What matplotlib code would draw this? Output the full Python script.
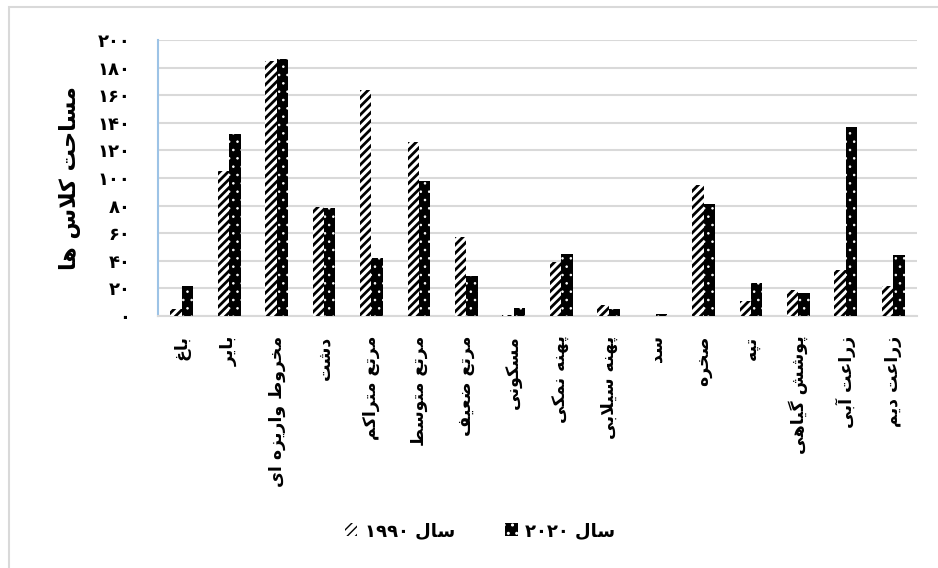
import numpy as np
import matplotlib
matplotlib.use("Agg")
import matplotlib.pyplot as plt
from matplotlib.patches import Rectangle, Patch

# data
categories = ['باغ', 'بایر', 'مخروط واریزه ای', 'دشت', 'مرتع متراکم', 'مرتع متوسط',
              'مرتع ضعیف', 'مسکونی', 'پهنه نمکی', 'پهنه سیلابی', 'سد', 'صخره',
              'تپه', 'پوشش گیاهی', 'زراعت آبی', 'زراعت دیم']
area_1990 = [5, 105, 185, 79, 164, 126, 57, 1, 39, 8, 0.3, 95, 11, 19, 33, 22]
area_2020 = [22, 132, 186, 78, 42, 98, 29, 6, 45, 5, 1.2, 81, 24, 17, 137, 44]
series_names = ['سال ۱۹۹۰', 'سال ۲۰۲۰']
y_label = 'مساحت کلاس ها'
y_ticks = list(range(0, 201, 20))

# --- minimal arabic/persian shaping (matplotlib has no complex text layout) ---
FORMS = {
    'ا': ('\uFE8D', '\uFE8E'), 'آ': ('\uFE81', '\uFE82'),
    'د': ('\uFEA9', '\uFEAA'), 'ر': ('\uFEAD', '\uFEAE'),
    'ز': ('\uFEAF', '\uFEB0'), 'و': ('\uFEED', '\uFEEE'),
    'لا': ('\uFEFB', '\uFEFC'), 'لآ': ('\uFEF5', '\uFEF6'),
    'ب': ('\uFE8F', '\uFE90', '\uFE91', '\uFE92'),
    'پ': ('\uFB56', '\uFB57', '\uFB58', '\uFB59'),
    'ت': ('\uFE95', '\uFE96', '\uFE97', '\uFE98'),
    'ح': ('\uFEA1', '\uFEA2', '\uFEA3', '\uFEA4'),
    'خ': ('\uFEA5', '\uFEA6', '\uFEA7', '\uFEA8'),
    'س': ('\uFEB1', '\uFEB2', '\uFEB3', '\uFEB4'),
    'ش': ('\uFEB5', '\uFEB6', '\uFEB7', '\uFEB8'),
    'ص': ('\uFEB9', '\uFEBA', '\uFEBB', '\uFEBC'),
    'ض': ('\uFEBD', '\uFEBE', '\uFEBF', '\uFEC0'),
    'ط': ('\uFEC1', '\uFEC2', '\uFEC3', '\uFEC4'),
    'ع': ('\uFEC9', '\uFECA', '\uFECB', '\uFECC'),
    'غ': ('\uFECD', '\uFECE', '\uFECF', '\uFED0'),
    'ف': ('\uFED1', '\uFED2', '\uFED3', '\uFED4'),
    'ک': ('\uFB8E', '\uFB8F', '\uFB90', '\uFB91'),
    'گ': ('\uFB92', '\uFB93', '\uFB94', '\uFB95'),
    'ل': ('\uFEDD', '\uFEDE', '\uFEDF', '\uFEE0'),
    'م': ('\uFEE1', '\uFEE2', '\uFEE3', '\uFEE4'),
    'ن': ('\uFEE5', '\uFEE6', '\uFEE7', '\uFEE8'),
    'ه': ('\uFEE9', '\uFEEA', '\uFEEB', '\uFEEC'),
    'ی': ('\uFBFC', '\uFBFD', '\uFBFE', '\uFBFF'),
}


def shape_word(word):
    letters = []
    i = 0
    while i < len(word):
        if word[i] == 'ل' and i + 1 < len(word) and word[i + 1] in 'اآ':
            letters.append(word[i:i + 2])
            i += 2
        else:
            letters.append(word[i])
            i += 1
    res = []
    for k, c in enumerate(letters):
        if c not in FORMS:
            res.append(c)
            continue
        prev = letters[k - 1] if k > 0 else None
        nxt = letters[k + 1] if k + 1 < len(letters) else None
        jp = prev in FORMS and len(FORMS[prev]) == 4
        jn = len(FORMS[c]) == 4 and nxt in FORMS
        f = FORMS[c]
        if jp and jn:
            res.append(f[3])
        elif jp:
            res.append(f[1])
        elif jn:
            res.append(f[2])
        else:
            res.append(f[0])
    return res


def fa(text):
    words = text.split(' ')
    out = []
    for w in reversed(words):
        if all('\u06F0' <= ch <= '\u06F9' for ch in w):
            out.append(w)
        else:
            out.append(''.join(reversed(shape_word(w))))
    return ' '.join(out)


def fa_digits(n):
    return str(n).translate(str.maketrans('0123456789', '۰۱۲۳۴۵۶۷۸۹'))


plt.rcParams['font.family'] = ['DejaVu Sans']

fig = plt.figure(figsize=(9.38, 5.68), dpi=100)
ax = fig.add_axes([158 / 938, 1 - 316 / 568, (917 - 158) / 938, (316 - 40) / 568])

x = np.arange(len(categories))
w = 0.24
with plt.rc_context({'hatch.linewidth': 2.0}):
    ax.bar(x - w / 2, area_1990, w, facecolor='white', edgecolor='black',
           linewidth=0, hatch='////', zorder=3)
    h1 = Patch(facecolor='white', edgecolor='black', linewidth=0, hatch='////')
with plt.rc_context({'hatch.linewidth': 0.6}):
    ax.bar(x + w / 2, area_2020, w, facecolor='black', edgecolor='white',
           linewidth=0, hatch='..', zorder=3)
    h2 = Patch(facecolor='black', edgecolor='white', linewidth=0, hatch='..')

ax.set_xlim(-0.5, len(categories) - 0.5)
ax.set_ylim(0, 200)
ax.set_yticks(y_ticks)
ax.set_yticklabels([fa_digits(v) for v in y_ticks], fontsize=13, fontweight='bold')
ax.set_xticks(x)
ax.set_xticklabels([fa(c) for c in categories], rotation=90, fontsize=12.5,
                   fontweight='bold', va='top', ha='center')
ax.tick_params(axis='both', length=0)
ax.tick_params(axis='y', pad=20)
ax.tick_params(axis='x', pad=14)
ax.grid(axis='y', color='#d9d9d9', linewidth=1.5, zorder=0)
for s in ['top', 'right']:
    ax.spines[s].set_visible(False)
ax.spines['bottom'].set_color('#d9d9d9')
ax.spines['bottom'].set_linewidth(1.5)
ax.spines['left'].set_color('#9dc3e6')
ax.spines['left'].set_linewidth(1.5)
ax.set_ylabel(fa(y_label), fontsize=16, fontweight='bold', labelpad=12)

fig.legend([h1, h2], [fa(s) for s in series_names], loc='center', ncol=2,
           bbox_to_anchor=(480 / 938, 1 - 531 / 568), frameon=False,
           prop={'size': 13, 'weight': 'bold'}, handlelength=0.7,
           handleheight=0.7, columnspacing=2.8, handletextpad=0.4)

# outer chart border
fig.patches.append(Rectangle((9 / 938, -0.1), 1.2, 1 - 7 / 568 + 0.1,
                             transform=fig.transFigure, fill=False,
                             edgecolor='#d9d9d9', linewidth=1.5))

fig.savefig('out.png', dpi=100)
